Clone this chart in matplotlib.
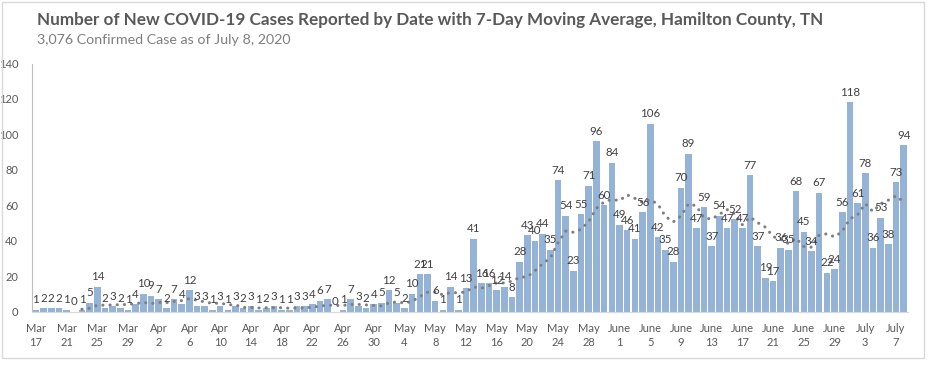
import matplotlib.pyplot as plt
import matplotlib.patches as patches
import numpy as np
import pandas as pd

# Daily new cases, Mar 17 - July 8 2020 (sums to 3,076)
cases = [1, 2, 2, 2, 1, 0, 1, 5, 14, 2, 3, 2, 1, 4,
         10, 9, 7, 2, 7, 4, 12, 3, 3, 1, 3, 1, 3, 2,
         3, 1, 2, 3, 1, 1, 3, 3, 4, 6, 7, 0, 1, 7,
         3, 2, 4, 5, 12, 5, 2, 10, 21, 21, 6, 1, 14, 1,
         13, 41, 16, 16, 12, 14, 8, 28, 43, 40, 44, 35, 74, 54,
         23, 55, 71, 96, 60, 84, 49, 46, 41, 56, 106, 42, 35, 28,
         70, 89, 47, 59, 37, 54, 47, 52, 47, 77, 37, 19, 17, 36,
         35, 68, 45, 34, 67, 22, 24, 56, 118, 61, 78, 36, 53, 38, 73, 94]

tick_labels = ['Mar\n17', 'Mar\n21', 'Mar\n25', 'Mar\n29', 'Apr\n2', 'Apr\n6',
               'Apr\n10', 'Apr\n14', 'Apr\n18', 'Apr\n22', 'Apr\n26', 'Apr\n30',
               'May\n4', 'May\n8', 'May\n12', 'May\n16', 'May\n20', 'May\n24',
               'May\n28', 'June\n1', 'June\n5', 'June\n9', 'June\n13', 'June\n17',
               'June\n21', 'June\n25', 'June\n29', 'July\n3', 'July\n7']

title = 'Number of New COVID-19 Cases Reported by Date with 7-Day Moving Average, Hamilton County, TN'
subtitle = '3,076 Confirmed Case as of July 8, 2020'

plt.rcParams['font.family'] = ['Lato', 'DejaVu Sans']

W, H = 934, 372
fig = plt.figure(figsize=(W/100, H/100), dpi=100)

# chart border
fig.patches.append(patches.Rectangle((2/W, 1 - 358/H), 922/W, 356/H, transform=fig.transFigure,
                                     fill=False, edgecolor='#d9d9d9', linewidth=1))

ax = fig.add_axes([32/W, 1 - 311.5/H, (907.5-32)/W, (311.5-63.5)/H])

x = np.arange(len(cases))
avg = pd.Series(cases).rolling(7).mean()

ax.bar(x, cases, width=0.86, color='#95b3d7', zorder=2)
ax.plot(x, avg, color='#7f7f7f', linewidth=2.2, linestyle=(0, (0.05, 2.3)),
        dash_capstyle='round', zorder=3)

for i, v in enumerate(cases):
    ax.text(i, v + 2.5, str(v), ha='center', va='bottom', fontsize=8.3, color='#404040', zorder=4)

ax.set_xlim(-0.5, len(cases) - 0.5)
ax.set_ylim(0, 140)
ax.set_yticks(range(0, 141, 20))
ax.set_xticks(range(0, len(cases), 4))
ax.set_xticklabels(tick_labels, linespacing=1.35)

for s in ['top', 'right']:
    ax.spines[s].set_visible(False)
ax.spines['left'].set_color('#bfbfbf')
ax.spines['bottom'].set_color('#d9d9d9')
ax.tick_params(axis='y', length=0, pad=10, labelsize=8, labelcolor='#595959')
ax.tick_params(axis='x', length=0, pad=8, labelsize=8, labelcolor='#595959')

fig.text(37/W, 1 - 20/H, title, fontsize=12.3, fontweight='bold', color='#595959', va='center')
fig.text(37/W, 1 - 40/H, subtitle, fontsize=10.3, color='#7f7f7f', va='center')

fig.savefig('out.png', dpi=100)
